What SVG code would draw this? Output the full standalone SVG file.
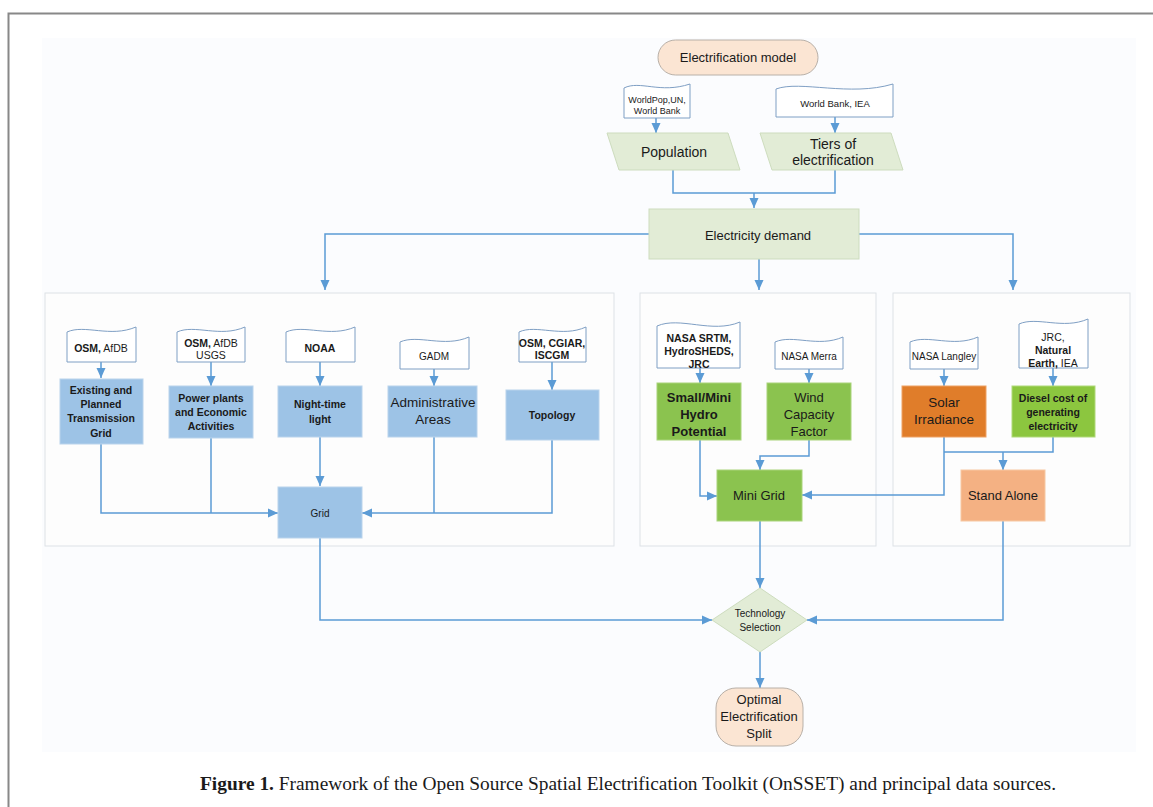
<svg xmlns="http://www.w3.org/2000/svg" width="1153" height="807" viewBox="0 0 1153 807">
<defs>
<style>
text{font-family:"Liberation Sans",Arial,sans-serif;fill:#1a1a1a;text-anchor:middle}
.b{font-weight:bold}
.doc{fill:#ffffff;stroke:#7f9fc4;stroke-width:1}
.blue{fill:#9dc3e6;stroke:#b9d3ec;stroke-width:1}
.panel{fill:#fdfdfd;stroke:#dde1e6;stroke-width:1}
.pale{fill:#e2ecd6;stroke:#cddcbe;stroke-width:1}
.peach{fill:#fbe5d3;stroke:#b8b0a8;stroke-width:1}
.green{fill:#8bc34f;stroke:#a9d47a;stroke-width:1}
.con{fill:none;stroke:#5b9bd5;stroke-width:1.5}
.arr{fill:none;stroke:#5b9bd5;stroke-width:1.5;marker-end:url(#ah)}
</style>
<marker id="ah" markerUnits="userSpaceOnUse" markerWidth="10" markerHeight="10" viewBox="0 0 10 10" refX="10" refY="5" orient="auto">
<path d="M0,0.5 L10,5 L0,9.5 Z" fill="#5b9bd5"/>
</marker>
</defs>
<rect width="1153" height="807" fill="#ffffff"/>
<rect x="42" y="38" width="1094" height="714" fill="#fbfcfe"/>
<path d="M8.5,807 V13.5 H1153" fill="none" stroke="#888888" stroke-width="2"/>

<!-- panels -->
<rect class="panel" x="45" y="293" width="569" height="253"/>
<rect class="panel" x="640" y="293" width="236" height="253"/>
<rect class="panel" x="893" y="293" width="237" height="253"/>

<g id="connectors">
<path class="arr" d="M656,118 V133"/>
<path class="arr" d="M835,117 V133"/>
<path class="con" d="M673,170 V193 H835 V170"/>
<path class="arr" d="M754,193 V208"/>
<path class="arr" d="M649,234 H325 V290"/>
<path class="arr" d="M859,234 H1013 V290"/>
<path class="arr" d="M759,259 V290"/>
<path class="arr" d="M101,362 V378"/>
<path class="arr" d="M211,362 V386"/>
<path class="arr" d="M320,362 V386"/>
<path class="arr" d="M434,369 V386"/>
<path class="arr" d="M552,362 V390"/>
<path class="arr" d="M101,444 V513 H278"/>
<path class="con" d="M211,438 V513"/>
<path class="arr" d="M320,437 V486"/>
<path class="con" d="M434,437 V513"/>
<path class="arr" d="M552,440 V513 H362"/>
<path class="arr" d="M700,368 V383"/>
<path class="arr" d="M809,369 V383"/>
<path class="arr" d="M700,440 V496 H717"/>
<path class="arr" d="M809,440 V456 H760 V470"/>
<path class="arr" d="M944,369 V386"/>
<path class="arr" d="M1053,368 V386"/>
<path class="arr" d="M944,437 V495 H802"/>
<path class="con" d="M1053,437 V452 H944"/>
<path class="arr" d="M1003,452 V470"/>
<path class="arr" d="M320,538 V620 H712"/>
<path class="arr" d="M760,521 V588"/>
<path class="arr" d="M1003,521 V620 H807"/>
<path class="arr" d="M760,652 V688"/>
</g>

<g id="electrification-model">
<rect class="peach" x="658" y="40" width="160" height="35" rx="17.5"/>
<text x="738" y="62" font-size="13">Electrification model</text>
</g>

<g id="src-worldpop">
<path class="doc" d="M624,88 C640,80 660,94 690,84 V118 H624 Z"/>
<text x="657" y="103" font-size="9">WorldPop,UN,</text>
<text x="657" y="114" font-size="9">World Bank</text>
</g>
<g id="src-worldbank">
<path class="doc" d="M776,89 C800,80 850,97 893,84 V117 H776 Z"/>
<text x="835" y="107" font-size="9.5">World Bank, IEA</text>
</g>

<g id="population">
<path class="pale" d="M607,133 H728 L740,170 H619 Z"/>
<text x="674" y="157" font-size="14">Population</text>
</g>
<g id="tiers">
<path class="pale" d="M760,133 H891 L903,170 H772 Z"/>
<text x="833" y="149" font-size="14">Tiers of</text>
<text x="833" y="165" font-size="14">electrification</text>
</g>

<g id="electricity-demand">
<rect class="pale" x="649" y="209" width="210" height="50"/>
<text x="758" y="240" font-size="13">Electricity demand</text>
</g>

<!-- left panel -->
<g id="src-osm-afdb">
<path class="doc" d="M67,332 C85,324 110,338 136,327 V362 H67 Z"/>
<text x="101" y="352" font-size="10.5"><tspan class="b">OSM,</tspan> AfDB</text>
</g>
<g id="existing-grid">
<rect class="blue" x="60" y="379" width="83" height="65"/>
<text class="b" x="101" y="394" font-size="10.5">Existing and</text>
<text class="b" x="101" y="408" font-size="10.5">Planned</text>
<text class="b" x="101" y="422" font-size="10.5">Transmission</text>
<text class="b" x="101" y="437" font-size="10.5">Grid</text>
</g>
<g id="src-osm-afdb-usgs">
<path class="doc" d="M177,332 C195,324 220,338 245,327 V362 H177 Z"/>
<text x="211" y="347" font-size="10.5"><tspan class="b">OSM,</tspan> AfDB</text>
<text x="211" y="359" font-size="10.5">USGS</text>
</g>
<g id="power-plants">
<rect class="blue" x="169" y="386" width="84" height="52"/>
<text class="b" x="211" y="402" font-size="10.5">Power plants</text>
<text class="b" x="211" y="416" font-size="10.5">and Economic</text>
<text class="b" x="211" y="430" font-size="10.5">Activities</text>
</g>
<g id="src-noaa">
<path class="doc" d="M286,332 C304,324 330,338 355,327 V362 H286 Z"/>
<text class="b" x="320" y="352" font-size="10.5">NOAA</text>
</g>
<g id="night-time-light">
<rect class="blue" x="278" y="386" width="84" height="51"/>
<text class="b" x="320" y="408" font-size="10.5">Night-time</text>
<text class="b" x="320" y="423" font-size="10.5">light</text>
</g>
<g id="src-gadm">
<path class="doc" d="M400,342 C418,334 444,348 469,337 V369 H400 Z"/>
<text x="434" y="360" font-size="10">GADM</text>
</g>
<g id="admin-areas">
<rect class="blue" x="388" y="386" width="89" height="51"/>
<text x="433" y="407" font-size="13.5">Administrative</text>
<text x="433" y="424" font-size="13.5">Areas</text>
</g>
<g id="src-osm-cgiar">
<path class="doc" d="M519,332 C536,324 562,338 586,327 V362 H519 Z"/>
<text class="b" x="552" y="347" font-size="10.5">OSM, CGIAR,</text>
<text class="b" x="552" y="359" font-size="10.5">ISCGM</text>
</g>
<g id="topology">
<rect class="blue" x="506" y="390" width="93" height="50"/>
<text class="b" x="552" y="419" font-size="10.5">Topology</text>
</g>
<g id="grid">
<rect class="blue" x="278" y="487" width="84" height="51"/>
<text x="320" y="517" font-size="10">Grid</text>
</g>

<!-- middle panel -->
<g id="src-nasa-srtm">
<path class="doc" d="M657,326 C680,316 712,334 740,322 V368 H657 Z"/>
<text class="b" x="699" y="342" font-size="10.5">NASA SRTM,</text>
<text class="b" x="699" y="355" font-size="10.5">HydroSHEDS,</text>
<text class="b" x="699" y="368" font-size="10.5">JRC</text>
</g>
<g id="hydro">
<rect class="green" x="657" y="383" width="84" height="57"/>
<text class="b" x="699" y="402" font-size="13">Small/Mini</text>
<text class="b" x="699" y="419" font-size="13">Hydro</text>
<text class="b" x="699" y="436" font-size="13">Potential</text>
</g>
<g id="src-nasa-merra">
<path class="doc" d="M775,342 C793,334 818,348 843,337 V369 H775 Z"/>
<text x="809" y="360" font-size="10">NASA Merra</text>
</g>
<g id="wind">
<rect class="green" x="767" y="383" width="84" height="57"/>
<text x="809" y="402" font-size="13">Wind</text>
<text x="809" y="419" font-size="13">Capacity</text>
<text x="809" y="436" font-size="13">Factor</text>
</g>
<g id="mini-grid">
<rect class="green" x="717" y="470" width="85" height="51"/>
<text x="759" y="500" font-size="13">Mini Grid</text>
</g>

<!-- right panel -->
<g id="src-nasa-langley">
<path class="doc" d="M910,342 C928,334 953,348 978,337 V369 H910 Z"/>
<text x="944" y="360" font-size="10">NASA Langley</text>
</g>
<g id="solar">
<rect x="902" y="386" width="84" height="51" fill="#e07d2a" stroke="#eea264" stroke-width="1"/>
<text x="944" y="407" font-size="13.5">Solar</text>
<text x="944" y="424" font-size="13.5">Irradiance</text>
</g>
<g id="src-jrc">
<path class="doc" d="M1019,324 C1037,316 1063,330 1088,319 V368 H1019 Z"/>
<text x="1053" y="341" font-size="10.5">JRC,</text>
<text class="b" x="1053" y="354" font-size="10.5">Natural</text>
<text x="1053" y="367" font-size="10.5"><tspan class="b">Earth,</tspan> IEA</text>
</g>
<g id="diesel">
<rect x="1012" y="386" width="83" height="51" fill="#8cc63f" stroke="#b0d97a" stroke-width="1"/>
<text class="b" x="1053" y="402" font-size="10.5">Diesel cost of</text>
<text class="b" x="1053" y="416" font-size="10.5">generating</text>
<text class="b" x="1053" y="430" font-size="10.5">electricity</text>
</g>
<g id="stand-alone">
<rect x="961" y="470" width="84" height="51" fill="#f4b183" stroke="#f7c8a2" stroke-width="1"/>
<text x="1003" y="500" font-size="13">Stand Alone</text>
</g>

<g id="technology-selection">
<path class="pale" d="M760,588 L807,620 L760,652 L712,620 Z" stroke="#9fb58a"/>
<text x="760" y="617" font-size="10">Technology</text>
<text x="760" y="631" font-size="10">Selection</text>
</g>

<g id="optimal-split">
<rect class="peach" x="716" y="688" width="87" height="58" rx="20"/>
<text x="759" y="704" font-size="13">Optimal</text>
<text x="759" y="721" font-size="13">Electrification</text>
<text x="759" y="738" font-size="13">Split</text>
</g>

<text x="628" y="790" font-family="'Liberation Serif','Times New Roman',serif" font-size="18" textLength="856" lengthAdjust="spacingAndGlyphs" style="font-family:'Liberation Serif','Times New Roman',serif"><tspan font-weight="bold">Figure 1.</tspan> Framework of the Open Source Spatial Electrification Toolkit (OnSSET) and principal data sources.</text>
</svg>
